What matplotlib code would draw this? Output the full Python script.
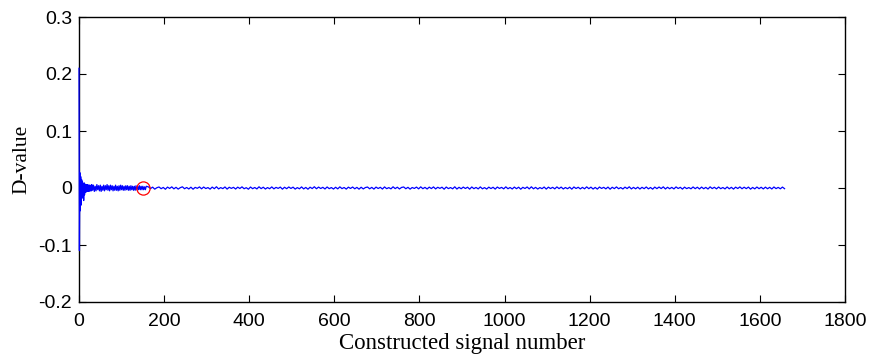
import numpy as np
import matplotlib
matplotlib.use('Agg')
from matplotlib import pyplot as plt

# first samples (every index)
head = [0.21, -0.11, 0.027, -0.04, 0.02, -0.03, 0.015, -0.018, 0.012, -0.01,
        0.008, -0.022, 0.009, -0.012, 0.007, -0.008, 0.006, -0.007, 0.006, -0.006,
        0.006, -0.005, 0.005, -0.006, 0.005, -0.005, 0.005, -0.005, 0.004, -0.005]

# samples 30..158, every 2nd index
mid = [0.006, -0.004, 0.005, -0.006, 0.003, -0.005, 0.006, -0.003, 0.004, -0.005,
       0.005, -0.006, 0.003, -0.004, 0.005, -0.005, 0.004, -0.003, 0.006, -0.004,
       0.004, -0.005, 0.005, -0.003, 0.004, -0.005, 0.003, -0.004, 0.005, -0.004,
       0.003, -0.005, 0.004, -0.004, 0.005, -0.003, 0.004, -0.004, 0.003, -0.004,
       0.004, -0.003, 0.004, -0.004, 0.003, -0.004, 0.004, -0.003, 0.003, -0.004,
       0.003, -0.004, 0.004, -0.003, 0.003, -0.003, 0.004, -0.003, 0.003, -0.003,
       0.003, -0.003, 0.002, -0.003, 0.003]

# samples from 163 on, every 5th index
tail = [0.002, -0.001, 0.0015, -0.002, 0.0005, 0.0018, -0.0012, 0.001, -0.0022, 0.0016,
        -0.0008, 0.002, -0.0015, 0.0012, -0.0019, 0.0006, 0.0021, -0.0013, 0.0009, -0.0017,
        0.0014, -0.0021, 0.0011, -0.0006, 0.0019, -0.0014, 0.0017, -0.001, 0.0008, -0.002,
        0.0016, -0.0012, 0.0022, -0.0016, 0.0007, -0.0011, 0.0018, -0.0019, 0.0013, -0.0007,
        0.0012, -0.0018, 0.0015, -0.0009, 0.002, -0.0013, 0.0006, -0.0021, 0.0017, -0.0012,
        0.0009, -0.0016, 0.0021, -0.0011, 0.0014, -0.0018, 0.0008, -0.0013, 0.0019, -0.0015,
        0.0011, -0.0007, 0.0016, -0.002, 0.0013, -0.0012, 0.0018, -0.0008, 0.0015, -0.0019,
        0.0007, -0.0014, 0.0019, -0.0016, 0.001, -0.0021, 0.0014, -0.001, 0.0022, -0.0013,
        0.0016, -0.0009, 0.0012, -0.0017, 0.0018, -0.0012, 0.0008, -0.0018, 0.0013, -0.0015,
        0.002, -0.0011, 0.0009, -0.0019, 0.0015, -0.0008, 0.0017, -0.0014, 0.0011, -0.002,
        0.0013, -0.0016, 0.0008, 0.0017, -0.0014, 0.0011, -0.0019, 0.0016, -0.0009, 0.0012,
        -0.0018, 0.0019, -0.0012, 0.0007, -0.0015, 0.0021, -0.0011, 0.0014, -0.0017, 0.001,
        0.0018, -0.0013, 0.0012, -0.002, 0.0009, -0.0008, 0.0016, -0.0015, 0.002, -0.0012,
        0.0011, -0.0017, 0.0015, -0.001, 0.0019, -0.0016, 0.0013, -0.0007, 0.0014, -0.0021,
        0.0017, -0.0011, 0.0008, -0.0014, 0.0021, -0.0018, 0.0012, -0.0013, 0.0016, -0.0009,
        0.0014, -0.002, 0.0018, -0.0012, 0.001, -0.0016, 0.0019, -0.0014, 0.0007, -0.0018,
        0.0015, -0.001, 0.0013, -0.0019, 0.0017, -0.0008, 0.0011, -0.0015, 0.002, -0.0013,
        0.0009, -0.0017, 0.0016, -0.0012, 0.0014, -0.0021, 0.0012, -0.0009, 0.0018, -0.0016,
        0.0021, -0.0014, 0.0011, -0.0018, 0.0008, -0.0012, 0.0017, -0.0019, 0.0015, -0.001,
        0.0012, -0.0015, 0.0019, -0.0011, 0.0016, -0.0017, 0.0009, -0.0013, 0.0014, -0.002,
        0.0018, -0.0009, 0.0013, -0.0016, 0.0011, -0.0014, 0.002, -0.0012, 0.0015, -0.0018,
        0.001, -0.0019, 0.0017, -0.0008, 0.0012, -0.0015, 0.0016, -0.0021, 0.0013, -0.0011,
        0.0019, -0.0013, 0.0008, -0.0017, 0.0015, -0.001, 0.0021, -0.0016, 0.0011, -0.0014,
        0.0014, -0.0018, 0.0012, -0.0012, 0.0018, -0.0015, 0.0009, -0.002, 0.0016, -0.0011,
        0.0017, -0.001, 0.002, -0.0017, 0.0013, -0.0013, 0.0011, -0.0016, 0.0019, -0.0009,
        0.0012, -0.0019, 0.0015, -0.0011, 0.0008, -0.0014, 0.0018, -0.0012, 0.0014, -0.0017,
        0.0016, -0.0013, 0.0011, -0.0018, 0.002, -0.001, 0.0013, -0.0015, 0.0017, -0.0012,
        0.0009, -0.0016, 0.0018, -0.0014, 0.0012, -0.0019, 0.0015, -0.0009, 0.0019, -0.0013,
        0.0014, -0.0011, 0.0016, -0.002, 0.001, -0.0015, 0.0017, -0.0012, 0.0013, -0.0016,
        0.0015, -0.0013, 0.0012, -0.0017, 0.0018, -0.0011, 0.0011, -0.0014, 0.0016, -0.0012]

mark_x = 150
mark_y = 0.0

xticks = [0, 200, 400, 600, 800, 1000, 1200, 1400, 1600, 1800]
yticks = [-0.2, -0.1, 0, 0.1, 0.2, 0.3]
ytick_labels = ['-0.2', '-0.1', '0', '0.1', '0.2', '0.3']

x = np.concatenate((np.arange(len(head)),
                    30 + 2*np.arange(len(mid)),
                    163 + 5*np.arange(len(tail))))
d = np.concatenate((head, mid, tail))

fig = plt.figure(figsize=(8.69, 3.56), dpi=100)
ax = fig.add_axes([79/869, 54/356, 766/869, 285/356])

ax.plot(x, d, color='#0000ff', lw=0.9, zorder=3, clip_on=False)
ax.plot(mark_x, mark_y, 'o', mfc='none', mec='red', ms=9.5, mew=0.9, zorder=4)

ax.set_xlim(0, 1800)
ax.set_ylim(-0.2, 0.3)
ax.set_xticks(xticks)
ax.set_yticks(yticks)
ax.set_yticklabels(ytick_labels)
ax.tick_params(direction='in', length=5, width=0.8, top=True, right=True,
               labelsize=14)
ax.tick_params(axis='x', pad=8)
ax.tick_params(axis='y', pad=5)
for lab in ax.get_xticklabels() + ax.get_yticklabels():
    lab.set_family('Liberation Sans')
for s in ax.spines.values():
    s.set_linewidth(1.0)

ax.set_xlabel('Constructed signal number', family='Liberation Serif', fontsize=16.5, labelpad=2)
ax.set_ylabel('D-value', family='Liberation Serif', fontsize=15.5, labelpad=5)

fig.savefig('out.png', dpi=100)
